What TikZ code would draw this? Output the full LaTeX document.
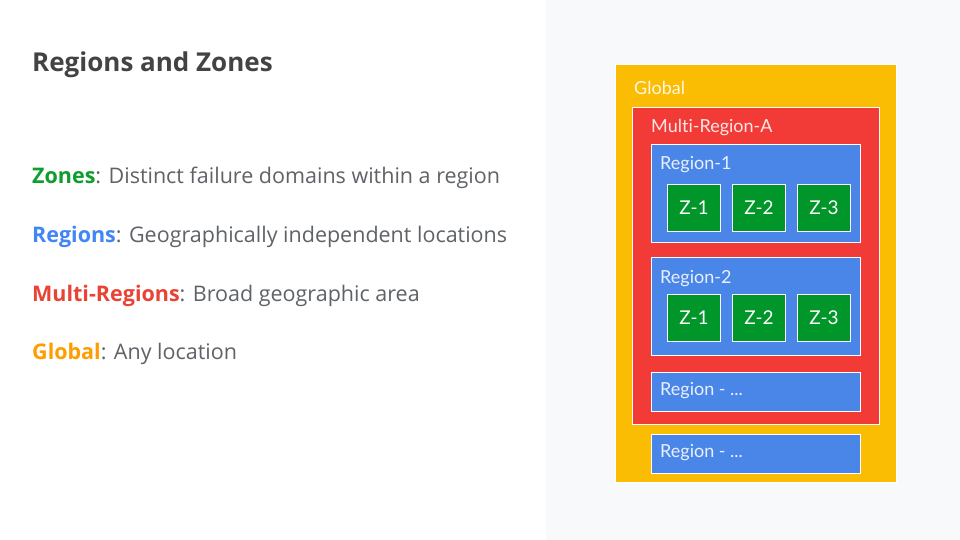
\documentclass[tikz,border=0pt]{standalone}
\usepackage{fontspec}
\setmainfont{Lato}[Ligatures={NoCommon}]
\newfontfamily\slidefont{Open Sans}
\usepackage{tikz}
\usetikzlibrary{positioning}

\definecolor{panelgray}{HTML}{F8F9FA}
\definecolor{titlegray}{HTML}{434343}
\definecolor{bodygray}{HTML}{5F6368}
\definecolor{gyellow}{HTML}{FBBC04}
\definecolor{gred}{HTML}{F23B36}
\definecolor{gblue}{HTML}{4A86E8}
\definecolor{ggreen}{HTML}{009629}
\definecolor{kgreen}{HTML}{0F9D30}
\definecolor{kblue}{HTML}{4285F4}
\definecolor{kred}{HTML}{EA4335}
\definecolor{korange}{HTML}{FF9D00}

\begin{document}
\begin{tikzpicture}[x=1pt, y=-1pt,
  area/.style={draw=white, line width=1pt, fill=#1, anchor=north west, inner sep=0pt},
  zone/.style={draw=white, line width=1pt, fill=ggreen, inner sep=0pt,
    minimum width=53pt, minimum height=47pt, text=white, font=\fontsize{19}{22}\selectfont},
  tag/.style={anchor=base west, inner sep=0pt, text=white, text opacity=0.88,
    font=\fontsize{18}{22}\selectfont},
  item/.style={anchor=base west, inner sep=0pt, text=bodygray, font=\slidefont\fontsize{21.5}{25}\selectfont},
]
% canvas and right-hand panel
\useasboundingbox[fill=white] (0,0) rectangle (960,540);
\fill[panelgray] (546,0) rectangle (960,540);

% Left column: title and definitions
\node[anchor=base west, inner sep=0pt, text=titlegray, font=\slidefont\fontsize{26}{30}\selectfont\bfseries]
  (title) at (32,72) {Regions and Zones};
\node[item] (zones) at (32,183) {\textcolor{kgreen}{\bfseries Zones}: Distinct failure domains within a region};
\node[item] (regions) at (32,242) {\textcolor{kblue}{\bfseries Regions}: Geographically independent locations};
\node[item] (multi) at (32,301) {\textcolor{kred}{\bfseries Multi-Regions}: Broad geographic area};
\node[item] (global) at (32,359) {\textcolor{korange}{\bfseries Global}: Any location};

% Nested areas
\node[area=gyellow, minimum width=281pt, minimum height=418pt] (glob) at (615,64) {};
\node[tag] (globtag) at ([shift={(19,31)}]glob.north west) {Global};

\node[area=gred, minimum width=247pt, minimum height=317pt] (mra) at (632,107) {};
\node[tag] (mratag) at ([shift={(19,26)}]mra.north west) {Multi-Region-A};

\node[area=gblue, minimum width=209pt, minimum height=98pt] (reg1) at (651,144) {};
\node[tag] (reg1tag) at ([shift={(9,26)}]reg1.north west) {Region-1};
\node[area=gblue, minimum width=209pt, minimum height=98pt, below=14pt of reg1, anchor=north] (reg2) {};
\node[tag] (reg2tag) at ([shift={(9,26)}]reg2.north west) {Region-2};
\node[area=gblue, minimum width=209pt, minimum height=39pt, below=16pt of reg2, anchor=north] (reg3) {};
\node[tag] (reg3tag) at ([shift={(9,23)}]reg3.north west) {Region - ...};
\node[area=gblue, minimum width=209pt, minimum height=39pt] (reg4) at (651,434) {};
\node[tag] (reg4tag) at ([shift={(9,23)}]reg4.north west) {Region - ...};

% Zones of each region
\node[zone, anchor=north west] (z11) at (667,184) {Z-1};
\node[zone, right=11pt of z11] (z12) {Z-2};
\node[zone, right=11pt of z12] (z13) {Z-3};
\node[zone, below=62pt of z11] (z21) {Z-1};
\node[zone, right=11pt of z21] (z22) {Z-2};
\node[zone, right=11pt of z22] (z23) {Z-3};
\end{tikzpicture}
\end{document}
